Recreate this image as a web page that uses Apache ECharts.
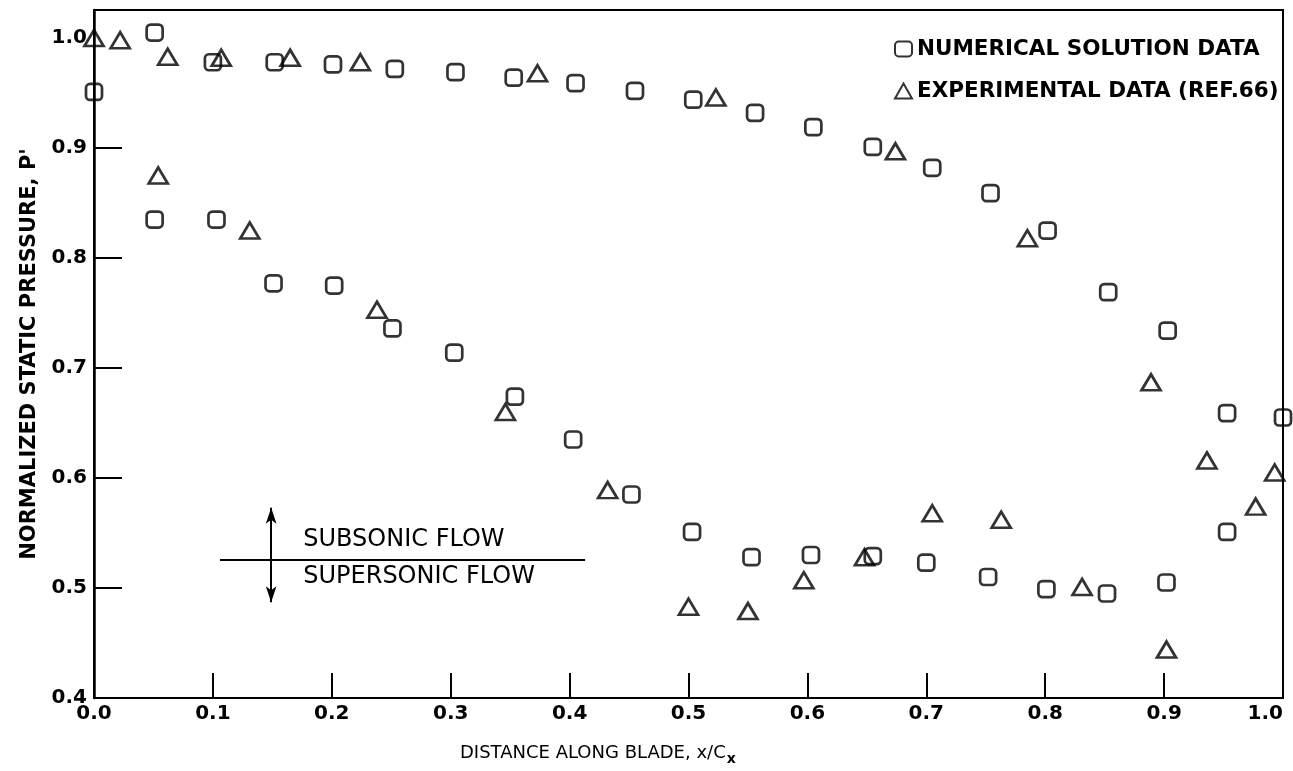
<!DOCTYPE html>
<html><head><meta charset="utf-8">
<script src="https://cdn.jsdelivr.net/npm/echarts@6/dist/echarts.min.js"></script>
<style>html,body{margin:0;padding:0;background:#fff}#c{width:1293px;height:771px}</style>
</head><body><div id="c"></div>
<script>
// ---- data ----
const xTickValues = [0.0,0.1,0.2,0.3,0.4,0.5,0.6,0.7,0.8,0.9,1.0];
const yTickValues = [0.4,0.5,0.6,0.7,0.8,0.9,1.0];

const numericalX = [0.0,0.051,0.100,0.152,0.201,0.253,0.304,0.353,0.405,0.455,0.504,0.556,0.605,0.655,0.705,0.754,0.802,0.853,0.903,0.953,1.0,
                    0.051,0.103,0.151,0.202,0.251,0.303,0.354,0.403,0.452,0.503,0.553,0.603,0.655,0.700,0.752,0.801,0.852,0.902,0.953];
const numericalY = [0.951,1.005,0.978,0.978,0.976,0.972,0.969,0.964,0.959,0.952,0.944,0.932,0.919,0.901,0.882,0.859,0.825,0.769,0.734,0.659,0.655,
                    0.835,0.835,0.777,0.775,0.736,0.714,0.674,0.635,0.585,0.551,0.528,0.530,0.529,0.523,0.510,0.499,0.495,0.505,0.551];

const experimentalX = [0.0,0.022,0.062,0.107,0.165,0.224,0.373,0.523,0.674,0.785,0.889,0.936,0.977,0.993,
                       0.054,0.131,0.238,0.346,0.432,0.500,0.550,0.597,0.648,0.705,0.763,0.831,0.902];
const experimentalY = [1.0,0.998,0.983,0.982,0.982,0.978,0.968,0.946,0.897,0.818,0.687,0.616,0.574,0.605,
                       0.875,0.825,0.753,0.660,0.589,0.483,0.479,0.507,0.528,0.568,0.562,0.501,0.444];

const seriesNames = ['NUMERICAL SOLUTION DATA', 'EXPERIMENTAL DATA (REF.66)'];
const sonicLineX = [0.106, 0.413];
const sonicLineY = 0.526;
const arrowX = 0.149;
const arrowY = [0.487, 0.573];
const annotationTexts = ['SUBSONIC FLOW', 'SUPERSONIC FLOW'];
const xAxisTitle = 'DISTANCE ALONG BLADE, x/C';
const xAxisTitleSub = 'x';
const yAxisTitle = "NORMALIZED STATIC PRESSURE, P'";

// ---- build ----
const FONT = 'DejaVu Sans';
const INK = '#000';
const zip = (xs, ys) => xs.map((x, i) => [x, ys[i]]);
const fmt = v => {
  const r = Math.round(v * 10) / 10;
  return Math.abs(v - r) < 1e-6 ? r.toFixed(1) : '';
};

const chart = echarts.init(document.getElementById('c'), null, {renderer: 'canvas'});
const option = {
  backgroundColor: '#fff',
  animation: false,
  grid: {left: 94, right: 10, top: 10, bottom: 73, show: true, borderColor: INK, borderWidth: 2},
  title: {
    text: xAxisTitle + '{s|' + xAxisTitleSub + '}',
    left: 455, top: 735,
    textStyle: {fontFamily: FONT, fontSize: 18, fontWeight: 'normal', color: INK,
      rich: {s: {fontFamily: FONT, fontSize: 14, fontWeight: 'bold', color: INK, padding: [12, 0, 0, 1]}}}
  },
  legend: {
    orient: 'vertical', left: 889, top: 33, itemWidth: 17, itemHeight: 15, itemGap: 20,
    textStyle: {fontFamily: FONT, fontSize: 21.5, fontWeight: 'bold', color: INK},
    data: seriesNames
  },
  xAxis: {
    type: 'value', min: 0, max: 1, interval: 0.1,
    axisLine: {show: true, lineStyle: {color: INK, width: 2}},
    axisTick: {show: true, inside: true, length: 25, lineStyle: {color: INK, width: 2},
      customValues: xTickValues.slice(1, -1)},
    axisLabel: {fontFamily: FONT, fontSize: 20, fontWeight: 'bold', color: INK, margin: 6,
      customValues: xTickValues, formatter: fmt, alignMaxLabel: 'right'},
    splitLine: {show: false}
  },
  yAxis: {
    type: 'value', min: 0.4, max: 1.0255, interval: 0.1,
    name: yAxisTitle, nameLocation: 'middle', nameGap: 54,
    nameTextStyle: {fontFamily: FONT, fontSize: 21, fontWeight: 'bold', color: INK},
    axisLine: {show: true, lineStyle: {color: INK, width: 2.5}},
    axisTick: {show: true, inside: true, length: 28, lineStyle: {color: INK, width: 2},
      customValues: yTickValues.slice(1, -1)},
    axisLabel: {fontFamily: FONT, fontSize: 20, fontWeight: 'bold', color: INK, margin: 7,
      customValues: yTickValues, formatter: fmt},
    splitLine: {show: false}
  },
  series: [
    {
      name: seriesNames[0], type: 'scatter', symbol: 'roundRect', symbolSize: 16,
      itemStyle: {color: 'rgba(255,255,255,0)', borderColor: INK, borderWidth: 2.7},
      data: zip(numericalX, numericalY), z: 3,
      markLine: {
        silent: true, animation: false,
        label: {show: false},
        lineStyle: {color: INK, width: 2, type: 'solid'},
        data: [
          [{coord: [sonicLineX[0], sonicLineY], symbol: 'none'}, {coord: [sonicLineX[1], sonicLineY], symbol: 'none'}],
          [{coord: [arrowX, arrowY[0]], symbol: 'arrow', symbolSize: [8, 16]}, {coord: [arrowX, arrowY[1]], symbol: 'arrow', symbolSize: [8, 16]}]
        ]
      }
    },
    {
      name: seriesNames[1], type: 'scatter', symbol: 'triangle', symbolSize: [19, 16],
      itemStyle: {color: 'rgba(255,255,255,0)', borderColor: INK, borderWidth: 2.7},
      data: zip(experimentalX, experimentalY), z: 3
    }
  ]
};
chart.setOption(option);

// annotation texts anchored at data coordinates
const p1 = chart.convertToPixel({gridIndex: 0}, [arrowX + 0.027, sonicLineY]);
chart.setOption({
  graphic: [
    {type: 'text', left: p1[0], top: p1[1] - 32,
     style: {text: annotationTexts[0], font: 'normal 24px "DejaVu Sans"', fill: INK}},
    {type: 'text', left: p1[0], top: p1[1] + 5,
     style: {text: annotationTexts[1], font: 'normal 24px "DejaVu Sans"', fill: INK}}
  ]
});
</script>
</body></html>
